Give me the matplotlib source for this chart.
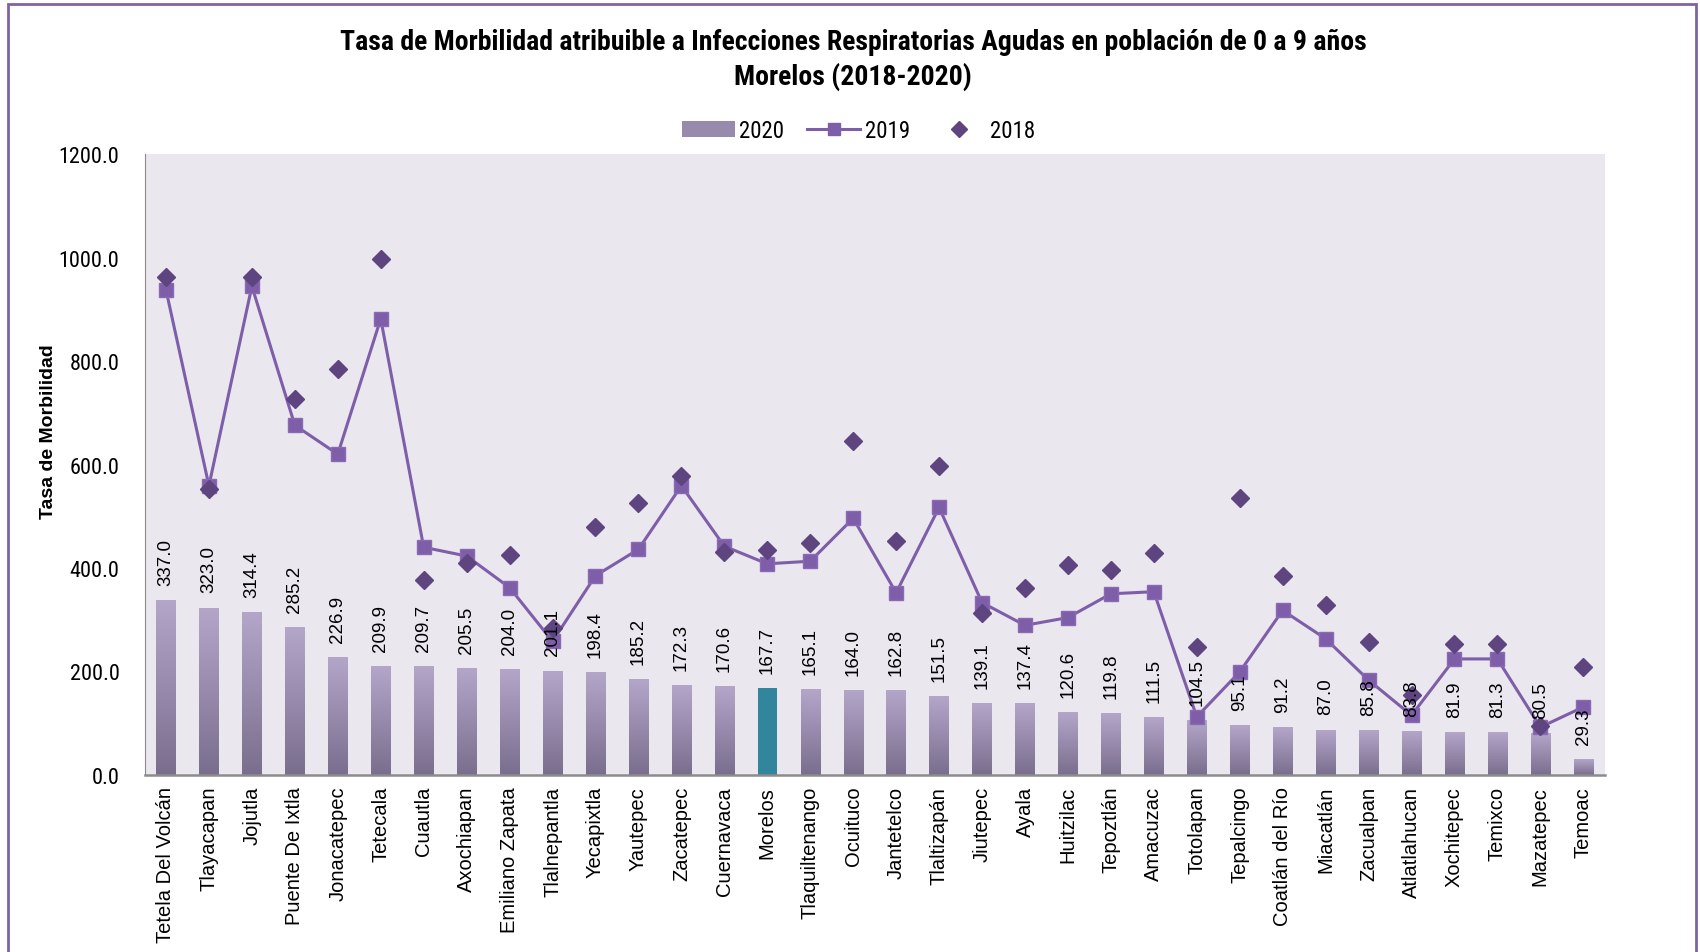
import matplotlib
matplotlib.use("Agg")
import matplotlib.pyplot as plt
import numpy as np
from matplotlib.patches import Rectangle, Patch
from matplotlib.lines import Line2D

# ---------------- data ----------------
municipios = ["Tetela Del Volcán", "Tlayacapan", "Jojutla", "Puente De Ixtla",
              "Jonacatepec", "Tetecala", "Cuautla", "Axochiapan", "Emiliano Zapata",
              "Tlalnepantla", "Yecapixtla", "Yautepec", "Zacatepec", "Cuernavaca",
              "Morelos", "Tlaquiltenango", "Ocuituco", "Jantetelco", "Tlaltizapán",
              "Jiutepec", "Ayala", "Huitzilac", "Tepoztlán", "Amacuzac", "Totolapan",
              "Tepalcingo", "Coatlán del Río", "Miacatlán", "Zacualpan", "Atlatlahucan",
              "Xochitepec", "Temixco", "Mazatepec", "Temoac"]

tasa_2020 = [337.0, 323.0, 314.4, 285.2, 226.9, 209.9, 209.7, 205.5, 204.0, 201.1,
             198.4, 185.2, 172.3, 170.6, 167.7, 165.1, 164.0, 162.8, 151.5, 139.1,
             137.4, 120.6, 119.8, 111.5, 104.5, 95.1, 91.2, 87.0, 85.8, 83.8,
             81.9, 81.3, 80.5, 29.3]

tasa_2019 = [938, 559, 945, 676, 620, 882, 440, 423, 362, 258,
             385, 436, 559, 442, 408, 413, 496, 352, 517, 333,
             289, 304, 350, 354, 112, 199, 318, 263, 183, 115,
             224, 224, 92, 131]

tasa_2018 = [963, 553, 963, 727, 785, 997, 377, 410, 425, 283,
             480, 526, 578, 431, 435, 448, 645, 452, 597, 312,
             362, 406, 396, 429, 248, 536, 385, 329, 256, 154,
             253, 253, 95, 209]

resaltado = "Morelos"

# ---------------- style ----------------
narrow = ["Roboto Condensed", "Archivo Narrow", "DejaVu Sans"]
regular = ["Liberation Sans", "DejaVu Sans"]
purple_line = "#7E5EA8"
purple_dark = "#5F4580"
bg = "#EAE7EF"
top_col = np.array([180, 166, 201]) / 255
bot_col = np.array([122, 110, 142]) / 255

fig = plt.figure(figsize=(17, 9.53), dpi=100)
ax = fig.add_axes([0.085, 0.186, 0.859, 0.651])
ax.set_facecolor(bg)

x = np.arange(len(municipios))
w = 0.45

# barras con degradado
grad = np.linspace(0, 1, 256)[:, None]
cols = top_col[None, :] * (1 - grad) + bot_col[None, :] * grad
cols = cols[:, None, :]
for xi, v, name in zip(x, tasa_2020, municipios):
    if name == resaltado:
        ax.bar(xi, v, width=w, color="#31859C", zorder=2)
    else:
        ax.imshow(cols, extent=(xi - w / 2, xi + w / 2, 0, v), aspect="auto",
                  zorder=2, interpolation="bilinear")
    ax.annotate(f"{v:.1f}", (xi, v), xytext=(0, 11), textcoords="offset points",
                rotation=90, ha="center", va="bottom", fontsize=13.5,
                family=regular, zorder=5)

ax.plot(x, tasa_2019, color=purple_line, lw=2.2, marker="s", ms=10,
        mfc=purple_line, mec="#8A6BB3", zorder=3)
ax.plot(x, tasa_2018, ls="none", marker="D", ms=9, color=purple_dark, zorder=4)

ax.set_xlim(-0.5, len(municipios) - 0.5)
ax.set_ylim(0, 1200)
ax.set_yticks(np.arange(0, 1201, 200))
ax.set_yticklabels([f"{t:.1f}" for t in np.arange(0, 1201, 200)],
                   family=narrow, fontsize=16)
ax.set_xticks(x)
ax.set_xticklabels(municipios, rotation=90, family=regular, fontsize=14.5)
ax.tick_params(axis="both", length=0, pad=8)
ax.tick_params(axis="y", pad=18)
for s in ["top", "right"]:
    ax.spines[s].set_visible(False)
ax.spines["left"].set_color("#8C8C8C")
ax.spines["bottom"].set_color("#8C8C8C")
ax.spines["bottom"].set_linewidth(1.8)
ax.set_ylabel("Tasa de Morbilidad", fontsize=14, fontweight="bold", family=regular)
ax.yaxis.set_label_coords(-0.060, 0.554)

fig.text(0.502, 0.955, "Tasa de Morbilidad atribuible a Infecciones Respiratorias Agudas en población de 0 a 9 años",
         ha="center", va="center", fontsize=20, fontweight="bold", family=narrow)
fig.text(0.502, 0.919, "Morelos (2018-2020)", ha="center", va="center",
         fontsize=20, fontweight="bold", family=narrow)

handles = [Patch(facecolor=(top_col + bot_col) / 2, edgecolor="none"),
           Line2D([], [], color=purple_line, lw=2.2, marker="s", ms=9),
           Line2D([], [], ls="none", marker="D", ms=8, color=purple_dark)]
fig.legend(handles, ["2020", "2019", "2018"], loc="center", ncol=3,
           bbox_to_anchor=(0.505, 0.862), frameon=False,
           prop={"family": narrow, "size": 16.5}, handlelength=2.3,
           columnspacing=1.0, handletextpad=0.2)

fig.patches.append(Rectangle((0.0045, -0.01), 0.993, 1.005, transform=fig.transFigure,
                             fill=False, edgecolor="#8064A2", lw=2, zorder=10))

fig.savefig("out.png", dpi=100)
